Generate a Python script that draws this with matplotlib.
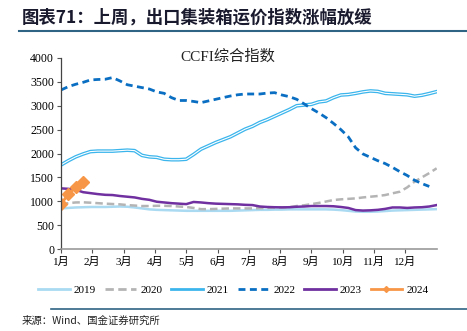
import numpy as np
import matplotlib
matplotlib.use("Agg")
import matplotlib.pyplot as plt
from matplotlib.lines import Line2D

SERIF = ['Liberation Serif', 'Noto Sans CJK SC']
CJK = ['Noto Sans CJK SC', 'DejaVu Sans']
plt.rcParams['font.family'] = SERIF

#%% data: weekly CCFI composite index by year
months = ['1月', '2月', '3月', '4月', '5月', '6月', '7月', '8月', '9月', '10月', '11月', '12月']

y2019 = [850, 860, 870, 875, 880, 880, 880, 885, 890, 885, 870, 850, 830, 820, 815, 810,
         805, 800, 800, 800, 800, 800, 800, 800, 805, 810, 815, 820, 820, 825, 825, 830,
         830, 830, 830, 830, 830, 825, 815, 800, 785, 780, 780, 785, 795, 805, 810, 815,
         820, 825, 830, 835]
y2020 = [930, 960, 975, 978, 970, 960, 950, 942, 935, 920, 910, 900, 900, 905, 905, 900,
         890, 880, 860, 835, 835, 840, 845, 850, 850, 850, 850, 855, 860, 870, 872, 875,
         900, 915, 940, 965, 995, 1026, 1040, 1050, 1060, 1080, 1095, 1110, 1130, 1166, 1200, 1290,
         1410, 1500, 1590, 1690]
y2021 = [1760, 1850, 1930, 1990, 2040, 2050, 2050, 2050, 2060, 2070, 2060, 1960, 1930, 1920, 1880, 1870,
         1870, 1880, 1980, 2090, 2160, 2230, 2290, 2350, 2430, 2510, 2570, 2650, 2710, 2780, 2850, 2920,
         3000, 3015, 3030, 3080, 3100, 3170, 3225, 3235, 3260, 3290, 3310, 3300, 3260, 3250, 3240, 3230,
         3200, 3220, 3255, 3295]
y2022 = [3330, 3400, 3450, 3490, 3540, 3550, 3555, 3590, 3520, 3440, 3410, 3380, 3350, 3290, 3260, 3170,
         3110, 3110, 3090, 3065, 3100, 3135, 3170, 3204, 3230, 3246, 3246, 3246, 3265, 3274, 3225, 3190,
         3135, 3040, 2940, 2850, 2750, 2630, 2500, 2350, 2120, 1990, 1920, 1850, 1790, 1710, 1620, 1540,
         1440, 1370, 1310]
y2023 = [1270, 1260, 1240, 1190, 1170, 1150, 1135, 1130, 1110, 1095, 1080, 1050, 1030, 990, 975, 960,
         950, 940, 985, 975, 960, 950, 945, 940, 935, 925, 920, 890, 880, 875, 872, 875,
         885, 890, 900, 900, 900, 895, 880, 860, 815, 805, 810, 820, 840, 870, 870, 860,
         870, 875, 890, 920]
y2024 = [940, 1150, 1290, 1396]

# one point per week, spread so that week 51 lands on the end of December
def wk(vals):
    return np.arange(len(vals)) * 12 / 51

#%% figure
fig = plt.figure(figsize=(4.67, 3.31), dpi=100)
ax = fig.add_axes([0.1306, 0.2477, 0.8044, 0.5771])

ax.plot(wk(y2019), y2019, color='#a9daf2', lw=1.8, label='2019')
ax.plot(wk(y2020), y2020, color='#b4b4b4', lw=1.8, ls=(0, (3, 1.6)), label='2020')
ax.plot(wk(y2021), y2021, color='#3bb5ec', lw=2.6, label='2021')
ax.plot(wk(y2021), y2021, color='white', lw=0.8)
ax.plot(wk(y2022), y2022, color='#0a6fc2', lw=2.0, ls=(0, (2.5, 1.6)), label='2022')
ax.plot(wk(y2023), y2023, color='#7030a0', lw=1.8, label='2023')
ax.plot(wk(y2024), y2024, color='#f79646', lw=2.0, marker='D', ms=6, label='2024')

ax.set_xlim(0, 12)
ax.set_ylim(0, 4000)
ax.set_yticks(range(0, 4001, 500))
ax.set_xticks(range(12))
ax.set_xticklabels(months)
ax.tick_params(axis='both', labelsize=8.5, length=3, width=0.8, color='#555555', pad=2,
               labelfontfamily='Liberation Serif')
ax.tick_params(axis='x', pad=3, labelsize=8)
for lab in ax.get_xticklabels():
    lab.set_fontfamily(SERIF)

for s in ['top', 'right']:
    ax.spines[s].set_visible(False)
ax.spines['left'].set_color('#444444')
ax.spines['bottom'].set_color('#999999')
ax.spines['left'].set_linewidth(0.9)
ax.spines['bottom'].set_linewidth(1.2)

fig.text(0.488, 0.828, 'CCFI综合指数', fontsize=11, ha='center', va='center',
         family=SERIF, color='#222222')

handles = [
    Line2D([], [], color='#a9daf2', lw=2),
    Line2D([], [], color='#b4b4b4', lw=2, ls=(0, (3, 1.6))),
    Line2D([], [], color='#3bb5ec', lw=2),
    Line2D([], [], color='#0a6fc2', lw=2, ls=(0, (2.5, 1.6))),
    Line2D([], [], color='#7030a0', lw=2),
    Line2D([], [], color='#f79646', lw=2, marker='D', ms=3),
]
fig.legend(handles, ['2019', '2020', '2021', '2022', '2023', '2024'],
           loc='center', bbox_to_anchor=(0.5, 0.124), ncol=6, frameon=False,
           fontsize=8, handlelength=2.8, handletextpad=0.4, columnspacing=0.8)

# header and footer
fig.text(0.047, 0.948, '图表71：上周，出口集装箱运价指数涨幅放缓', fontsize=12.5,
         fontweight='bold', family=CJK, color='#1a1a2e', ha='left', va='center')
fig.add_artist(Line2D([0.04, 1.0], [0.905, 0.905], color='#2f6485', lw=1.5))
fig.add_artist(Line2D([0.11, 1.0], [0.066, 0.066], color='#2f6485', lw=1.2))
fig.text(0.047, 0.032, '来源：Wind、国金证券研究所', fontsize=7.5, family=CJK,
         color='#222222', ha='left', va='center')

fig.savefig('out.png', dpi=100)
